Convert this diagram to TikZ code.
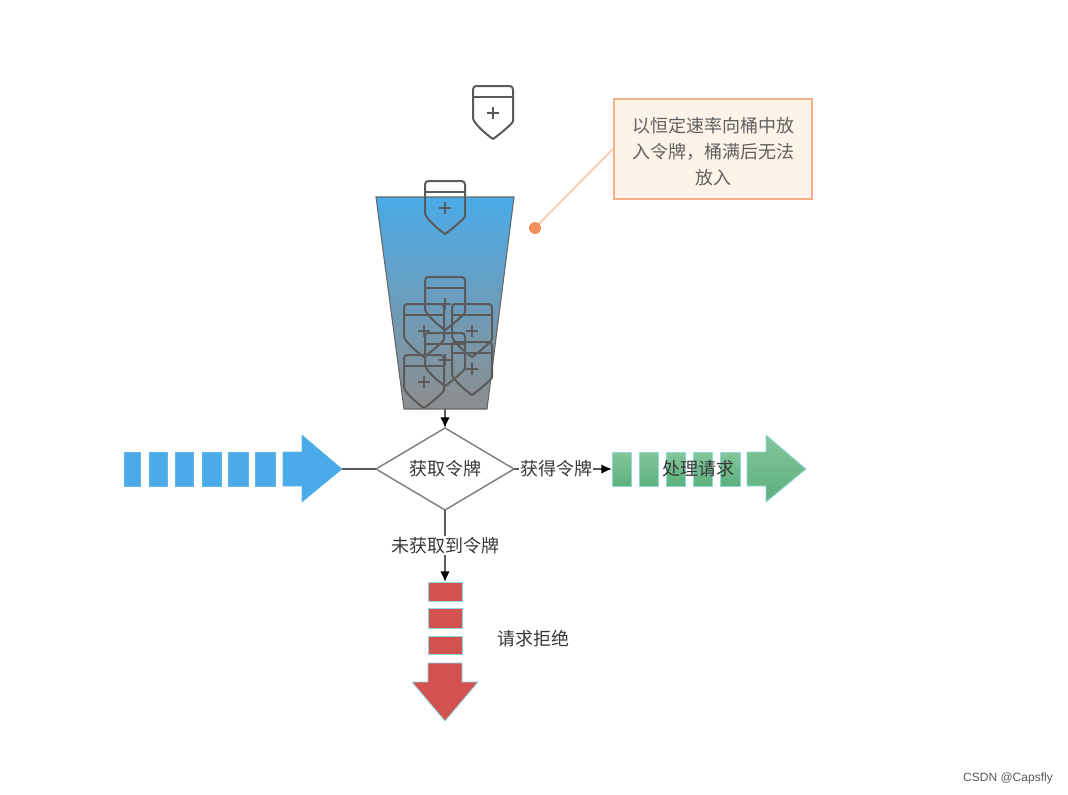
\documentclass[tikz,border=0pt]{standalone}
\usepackage{fontspec}
\setmainfont{Noto Sans CJK SC}
\newfontfamily\latinfont{Liberation Sans}
\usetikzlibrary{shapes.geometric,arrows.meta}
\definecolor{shieldgrey}{HTML}{5A5A5A}
\definecolor{bluefill}{HTML}{4AABE8}
\definecolor{bucketgrey}{HTML}{8E8E8E}
\definecolor{redfill}{HTML}{D2524F}
\definecolor{edgeteal}{HTML}{8FD8DE}
\definecolor{linegrey}{HTML}{5A5A5A}
\definecolor{greentop}{HTML}{84C69A}
\definecolor{greenbot}{HTML}{5CB07E}
\definecolor{noteedge}{HTML}{F5B088}
\definecolor{notefill}{HTML}{FDF3E8}
\definecolor{notewire}{HTML}{F8C4A6}
\definecolor{notedot}{HTML}{F0905A}
\tikzset{
  x=0.75pt,y=-0.75pt,
  shieldpic/.pic={
    \draw[shieldgrey,line width=1.5pt,line join=round]
      [rounded corners=2.5pt] (-20,32) -- (-20,0) -- (20,0) -- (20,32)
      [sharp corners] .. controls (20,37) and (6,49) .. (0,53) .. controls (-6,49) and (-20,37) .. (-20,32);
    \draw[shieldgrey,line width=1.5pt] (-20,11) -- (20,11);
    \draw[shieldgrey,line width=1.5pt] (-6,27) -- (6,27) (0,21) -- (0,33);
  },
  blueblock/.style={fill=bluefill,draw=bluefill!70!edgeteal,line width=.4pt},
  greenblock/.style={top color=greentop,bottom color=greenbot,draw=edgeteal,line width=.6pt},
  redblock/.style={fill=redfill,draw=edgeteal,line width=.6pt},
  flowlabel/.style={font=\fontsize{13.5}{16}\selectfont,text=black!78,inner sep=1pt},
  wirelabel/.style={flowlabel,fill=white},
  wire/.style={linegrey,line width=1.1pt},
  wirearrow/.style={wire,-{Latex[length=8pt,width=7pt,black]}},
  callout/.style={draw=noteedge,line width=1.3pt,fill=notefill,align=center,text=black!62,
    font=\fontsize{13.5}{19.5}\selectfont,inner sep=0pt,minimum width=149pt,minimum height=75.5pt},
  decision/.style={diamond,draw=black!50,line width=1.1pt,aspect=1.68,inner sep=0pt,outer sep=0pt,
    minimum width=103.5pt,minimum height=61.5pt,fill=white},
}
\begin{document}
\begin{tikzpicture}
\useasboundingbox (0,0) rectangle (1068,794);
% bucket
\shade[top color=bluefill,bottom color=bucketgrey,draw=black!60,line width=.8pt]
  (376,197) -- (514,197) -- (487,409) -- (404,409) -- cycle;
\coordinate (bucketbottom) at (445,409);
% shields
\pic at (493,86) {shieldpic};
\pic at (445,181) {shieldpic};
\pic at (445,277) {shieldpic};
\pic at (424,304) {shieldpic};
\pic at (472,304) {shieldpic};
\pic at (445,333) {shieldpic};
\pic at (472,342) {shieldpic};
\pic at (424,355) {shieldpic};
% blue arrow
\foreach \a/\b in {124/140,149/167,175/193.5,202/221,228/248,255.5/275}
  \path[blueblock] (\a,452) rectangle (\b,486);
\path[blueblock] (283,452) -- (302,452) -- (302,435) -- (342,469) -- (302,502) -- (302,486) -- (283,486) -- cycle;
\coordinate (bluetip) at (342,469);
% green arrow
\foreach \a/\b in {612/631,639/658,666/685,693/712,720/740}
  \path[greenblock] (\a,452) rectangle (\b,486);
\path[greenblock]
  (747,452) -- (766,452) -- (766,435) -- (806,469) -- (766,502) -- (766,486) -- (747,486) -- cycle;
\coordinate (greentail) at (612,469);
% red arrow
\foreach \a/\b in {582/601,608/628,636/654}
  \path[redblock] (428,\a) rectangle (462,\b);
\path[redblock] (428,663) -- (462,663) -- (462,682) -- (478,682) -- (445,721) -- (412,682) -- (428,682) -- cycle;
\coordinate (redtop) at (445,582);
% decision
\node[decision,flowlabel,inner sep=0pt] (dec) at (445,469) {获取令牌};
% connectors
\draw[wirearrow] (bucketbottom) -- (dec.north);
\draw[wire] (bluetip) -- (dec.west);
\draw[wirearrow] (dec.east) -- (greentail) node[wirelabel,pos=.43] (gotlabel) {获得令牌};
\draw[wirearrow] (dec.south) -- (redtop) node[wirelabel,pos=.49] (missLabel) {未获取到令牌};
% other labels
\node[flowlabel] (proc) at (698,469) {处理请求};
\node[flowlabel] (rej) at (533,639) {请求拒绝};
% callout
\coordinate (dot) at (535,228);
\node[callout] (note) at (713,149) {\rule{0pt}{14.6pt}以恒定速率向桶中放\\入令牌，桶满后无法\\放入};
\draw[notewire,line width=1.2pt] (note.west) -- (dot);
\fill[notedot] (dot) circle[radius=6];
% watermark
\node[font=\latinfont\fontsize{9}{11}\selectfont,text=black!65,inner sep=0pt] (mark) at (1008,778) {CSDN @Capsfly};
\end{tikzpicture}
\end{document}
